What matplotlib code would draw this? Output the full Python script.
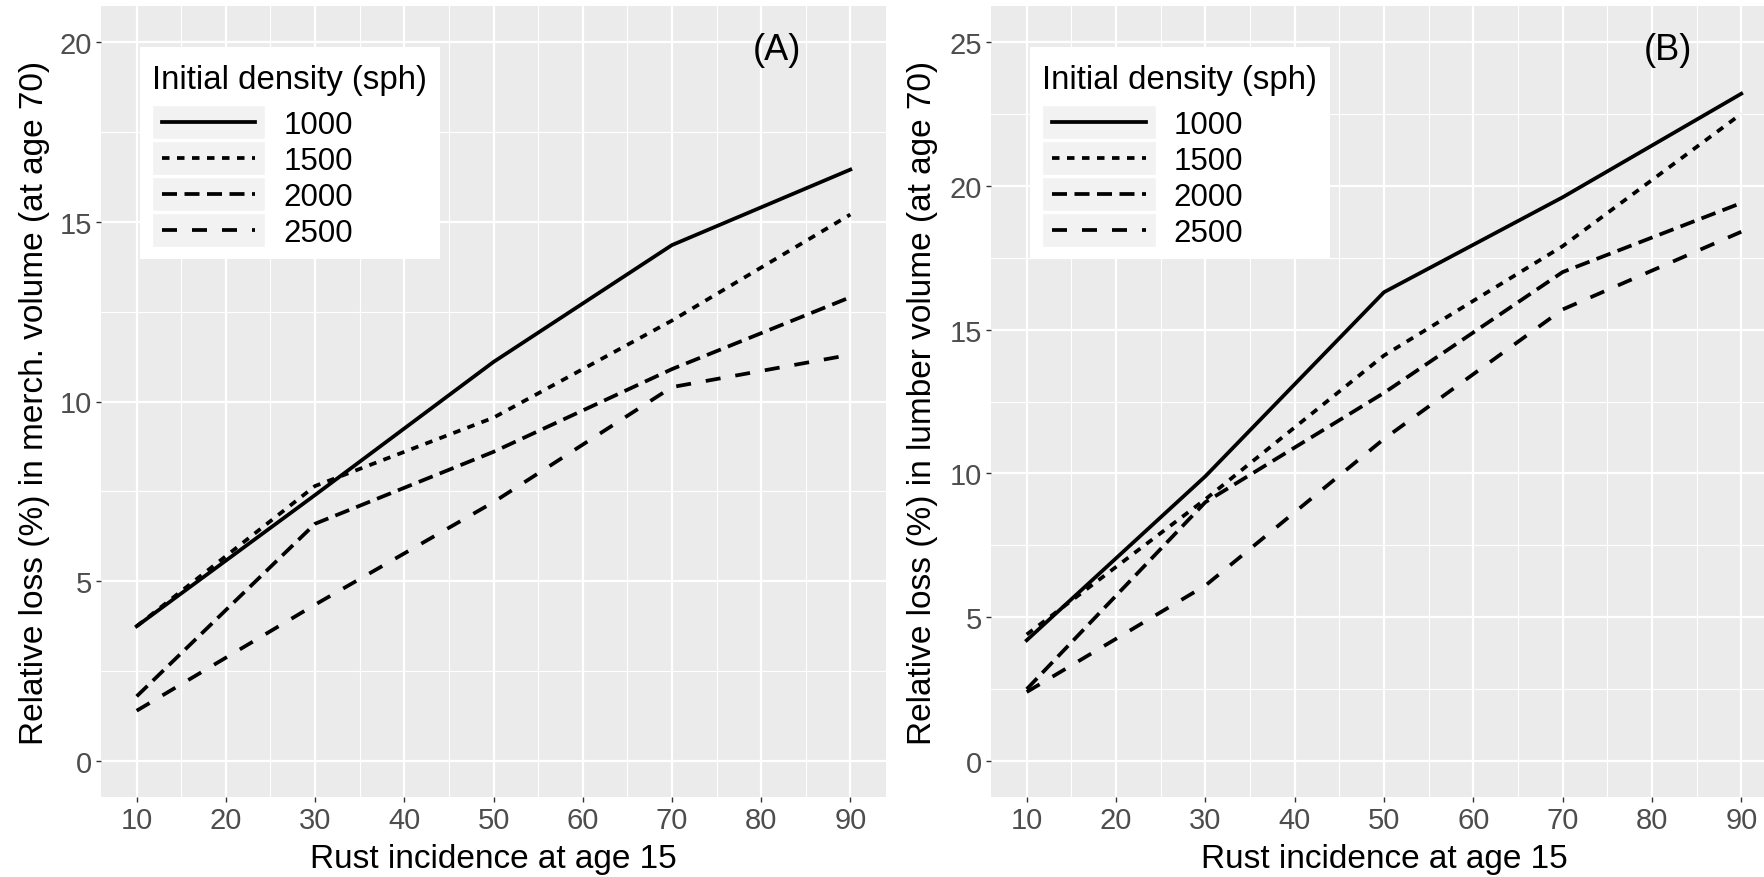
import numpy as np
import matplotlib.pyplot as plt
from matplotlib.patches import Rectangle
from matplotlib.ticker import MultipleLocator

plt.rcParams['font.family'] = ['Liberation Sans', 'DejaVu Sans']

# rust incidence at age 15 (%)
rust = [10, 30, 50, 70, 90]
densities = ['1000', '1500', '2000', '2500']

# (A) relative loss in merch. volume at age 70
merch_1000 = [3.75, 7.4, 11.1, 14.35, 16.45]
merch_1500 = [3.75, 7.65, 9.55, 12.25, 15.2]
merch_2000 = [1.8, 6.6, 8.6, 10.9, 12.9]
merch_2500 = [1.4, 4.35, 7.2, 10.4, 11.3]

# (B) relative loss in lumber volume at age 70
lumber_1000 = [4.2, 9.9, 16.3, 19.6, 23.2]
lumber_1500 = [4.4, 9.1, 14.1, 17.9, 22.5]
lumber_2000 = [2.5, 9.0, 12.8, 17.0, 19.4]
lumber_2500 = [2.4, 6.1, 11.2, 15.7, 18.4]

styles = ['-', (0, (2, 2)), (0, (4, 2)), (0, (4, 4))]

W, H = 1765, 878
fig = plt.figure(figsize=(W / 100, H / 100), dpi=100)


def px_axes(left, right, top, bottom):
    return fig.add_axes([left / W, 1 - bottom / H, (right - left) / W, (bottom - top) / H])


def style_axes(ax, ymax, ylabel, tag):
    ax.set_facecolor('#EBEBEB')
    for s in ax.spines.values():
        s.set_visible(False)
    ax.set_xlim(6, 94)
    ax.set_ylim(-ymax * 0.05, ymax * 1.05)
    ax.xaxis.set_major_locator(MultipleLocator(10))
    ax.xaxis.set_minor_locator(MultipleLocator(10, offset=5))
    ax.yaxis.set_major_locator(MultipleLocator(5))
    ax.yaxis.set_minor_locator(MultipleLocator(5, offset=2.5))
    ax.grid(which='major', color='white', lw=1.6)
    ax.grid(which='minor', color='white', lw=0.8)
    ax.set_axisbelow(True)
    ax.tick_params(which='major', length=3.5, width=1, color='#333333',
                   labelcolor='#4D4D4D', labelsize=21, pad=3)
    ax.tick_params(which='minor', length=0)
    ax.set_xlabel('Rust incidence at age 15', fontsize=24, color='black')
    ax.set_ylabel(ylabel, fontsize=24, color='black')
    ax.text(0.861, 0.945, tag, transform=ax.transAxes, fontsize=26,
            ha='center', va='center')


def add_legend(ax):
    leg = ax.legend(title='Initial density (sph)', loc='upper left',
                    bbox_to_anchor=(0.065, 0.927), borderaxespad=0, borderpad=0,
                    frameon=False, fontsize=22.5, title_fontsize=23.8,
                    handlelength=3.0, handletextpad=0.9, labelspacing=0.19,
                    alignment='left')
    leg._legend_handle_box.pad = 7
    leg.set_zorder(6)
    fig.canvas.draw()
    r = fig.canvas.get_renderer()
    inv = ax.transAxes.inverted()
    bb = leg.get_window_extent(r)
    x0, y0 = inv.transform((bb.x0 - 12, bb.y0 - 1))
    x1, y1 = inv.transform((bb.x1 + 13, bb.y1 + 17))
    ax.add_patch(Rectangle((x0, y0), x1 - x0, y1 - y0, transform=ax.transAxes,
                           facecolor='white', edgecolor='none', zorder=4))
    for h in leg.legend_handles:
        hb = h.get_window_extent(r)
        cy = (hb.y0 + hb.y1) / 2
        a0, b0 = inv.transform((hb.x0 - 10, cy - 17))
        a1, b1 = inv.transform((hb.x1 + 10, cy + 17))
        ax.add_patch(Rectangle((a0, b0), a1 - a0, b1 - b0, transform=ax.transAxes,
                               facecolor='#F2F2F2', edgecolor='white', lw=1, zorder=5))


# panel (A)
axA = px_axes(101, 886, 7, 798)
for d, ys, ls in zip(densities, [merch_1000, merch_1500, merch_2000, merch_2500], styles):
    axA.plot(rust, ys, color='black', lw=2.7, linestyle=ls, label=d)
style_axes(axA, 20, 'Relative loss (%) in merch. volume (at age 70)', '(A)')
axA.xaxis.set_label_coords(0.5, (798 - 860) / 791)
axA.xaxis.label.set_va('center')
axA.yaxis.set_label_coords((35 - 101) / 785, 0.5)
axA.yaxis.label.set_va('center')

# panel (B) - runs past the right edge of the figure, as in the source
axB = px_axes(991, 1777, 7, 798)
for d, ys, ls in zip(densities, [lumber_1000, lumber_1500, lumber_2000, lumber_2500], styles):
    axB.plot(rust, ys, color='black', lw=2.7, linestyle=ls, label=d)
style_axes(axB, 25, 'Relative loss (%) in lumber volume (at age 70)', '(B)')
axB.xaxis.set_label_coords(0.5, (798 - 860) / 791)
axB.xaxis.label.set_va('center')
axB.yaxis.set_label_coords((923 - 991) / 786, 0.5)
axB.yaxis.label.set_va('center')

add_legend(axA)
add_legend(axB)

fig.savefig('out.png', dpi=100)
